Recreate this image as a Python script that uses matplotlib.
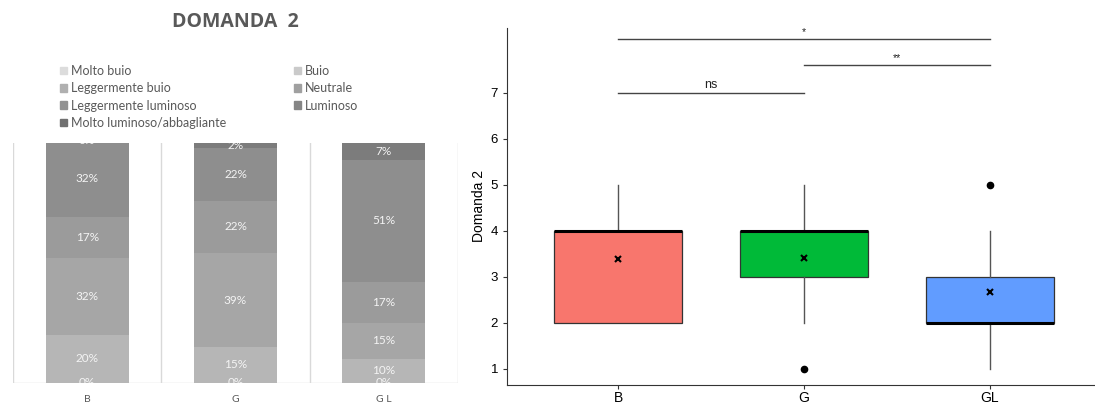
import matplotlib
matplotlib.use("Agg")
import matplotlib.pyplot as plt
import numpy as np

# --- left panel: stacked percentages (Excel style) ---
groups = ["B", "G", "G L"]
levels = [
    "Molto buio",
    "Buio",
    "Leggermente buio",
    "Neutrale",
    "Leggermente luminoso",
    "Luminoso",
    "Molto luminoso/abbagliante",
]
level_colors = ["#d9d9d9", "#b6b6b6", "#a6a6a6", "#9b9b9b", "#8e8e8e", "#7c7c7c", "#6a6a6a"]
legend_colors = ["#dcdcdc", "#cacaca", "#b0b0b0", "#a0a0a0", "#929292", "#858585", "#707070"]
pct = {
    "B": [0, 20, 32, 17, 32, 0, 0],
    "G": [0, 15, 39, 22, 22, 2, 0],
    "G L": [0, 10, 15, 17, 51, 7, 0],
}

# --- right panel: boxplot summary (ggplot style) ---
box_groups = ["B", "G", "GL"]
box_colors = ["#F8766D", "#00BA38", "#619CFF"]
q1 = [2, 3, 2]
med = [4, 4, 2]
q3 = [4, 4, 3]
whis_lo = [2, 2, 1]
whis_hi = [5, 5, 4]
fliers = [[], [1], [5]]
means = [3.38, 3.41, 2.68]
sig_pairs = [(1, 2, 7.0, "ns"), (2, 3, 7.6, "**"), (1, 3, 8.17, "*")]

W, H = 1095, 405
fig = plt.figure(figsize=(W / 100, H / 100), dpi=100)
plt.rcParams["font.family"] = ["Liberation Sans", "DejaVu Sans"]

# left
axl = fig.add_axes([13 / W, (H - 383) / H, 445 / W, 240 / H])
x = np.arange(len(groups))
bottom = np.zeros(len(groups))
for i, lev in enumerate(levels):
    vals = np.array([pct[g][i] for g in groups], dtype=float)
    axl.bar(x, vals, bottom=bottom, width=0.56, color=level_colors[i],
            edgecolor="none", label=lev, zorder=2)
    for xi, v, b in zip(x, vals, bottom):
        if i == len(levels) - 1 and v == 0:
            continue
        axl.text(xi, b + v / 2, f"{int(v)}%", ha="center", va="center",
                 color="#f4f4f4", fontsize=8.5, family="Lato", clip_on=True, zorder=3)
    bottom += vals
axl.set_xlim(-0.5, 2.5)
axl.set_ylim(0, 100)
for xv in [-0.5, 0.5, 1.5, 2.5]:
    axl.axvline(xv, color="#d9d9d9", lw=1, zorder=1)
for s in axl.spines.values():
    s.set_visible(False)
axl.axhline(0, color="#d9d9d9", lw=1, zorder=1)
axl.set_yticks([])
axl.set_xticks(x)
axl.set_xticklabels(groups, fontsize=7.5, color="#595959", family="Lato")
axl.tick_params(axis="x", length=0, pad=9)

fig.text(235 / W, 1 - 22 / H, "DOMANDA  2", ha="center", va="center",
         fontsize=14, fontweight="bold", color="#595959", family="Open Sans")

handles = [plt.Rectangle((0, 0), 1, 1, color=c) for c in legend_colors]
order = [0, 2, 4, 6, 1, 3, 5]
fig.legend([handles[k] for k in order], [levels[k] for k in order], ncol=2,
           loc="upper left", bbox_to_anchor=(60 / W, 1 - 65 / H), frameon=False,
           prop={"family": "Lato", "size": 9}, labelcolor="#595959",
           handlelength=0.55, handleheight=0.55, handletextpad=0.35,
           labelspacing=0.42, columnspacing=5.4, borderpad=0, borderaxespad=0)

# right
axr = fig.add_axes([507 / W, (H - 385) / H, 594 / W, 357.5 / H])
stats = []
for i in range(3):
    stats.append(dict(med=med[i], q1=q1[i], q3=q3[i], whislo=whis_lo[i],
                      whishi=whis_hi[i], fliers=fliers[i], mean=means[i]))
bp = axr.bxp(stats, positions=[1, 2, 3], widths=0.69, patch_artist=True,
             showcaps=False, showmeans=True,
             boxprops=dict(edgecolor="#333333", linewidth=0.9),
             medianprops=dict(color="black", linewidth=2.2),
             whiskerprops=dict(color="#555555", linewidth=1),
             flierprops=dict(marker="o", markerfacecolor="black", markeredgecolor="black", markersize=4.5),
             meanprops=dict(marker="x", markeredgecolor="black", markersize=4, markeredgewidth=1.5))
for patch, c in zip(bp["boxes"], box_colors):
    patch.set_facecolor(c)
for a, b, yv, lab in sig_pairs:
    axr.plot([a, b], [yv, yv], color="#444444", lw=1)
    axr.text((a + b) / 2, yv + 0.05, lab, ha="center", va="bottom",
             fontsize=9 if lab == "ns" else 7.5, color="#222222")
axr.set_xlim(0.4, 3.6)
axr.set_ylim(0.65, 8.42)
axr.set_yticks([1, 2, 3, 4, 5, 6, 7])
axr.set_xticks([1, 2, 3])
axr.set_xticklabels(box_groups, fontsize=10, color="black")
axr.tick_params(axis="y", labelsize=9.5, length=3, color="#333333")
axr.tick_params(axis="x", length=3, color="#333333", pad=1.5)
axr.set_ylabel("Domanda 2", fontsize=10, labelpad=3)
axr.spines["top"].set_visible(False)
axr.spines["right"].set_visible(False)
axr.spines["left"].set_color("#333333")
axr.spines["bottom"].set_color("#333333")

fig.savefig("out.png", dpi=100)
